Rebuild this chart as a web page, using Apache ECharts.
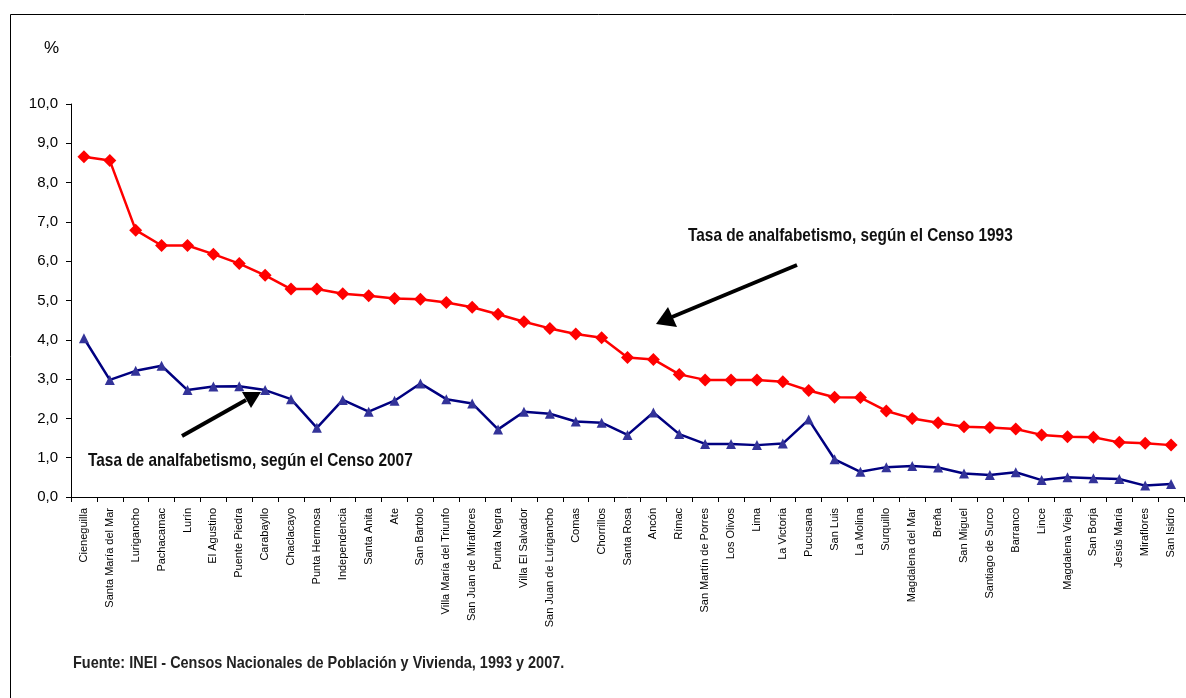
<!DOCTYPE html>
<html><head><meta charset="utf-8">
<script src="https://cdn.jsdelivr.net/npm/echarts@6/dist/echarts.min.js"></script>
<style>html,body{margin:0;padding:0;background:#fff}#c{width:1186px;height:698px}</style>
</head><body><div id="c"></div>
<script>
const categories = ["Cieneguilla","Santa María del Mar","Lurigancho","Pachacamac","Lurín","El Agustino","Puente Piedra","Carabayllo","Chaclacayo","Punta Hermosa","Independencia","Santa Anita","Ate","San Bartolo","Villa María del Triunfo","San Juan de Miraflores","Punta Negra","Villa El Salvador","San Juan de Lurigancho","Comas","Chorrillos","Santa Rosa","Ancón","Rímac","San Martín de Porres","Los Olivos","Lima","La Victoria","Pucusana","San Luis","La Molina","Surquillo","Magdalena del Mar","Breña","San Miguel","Santiago de Surco","Barranco","Lince","Magdalena Vieja","San Borja","Jesús María","Miraflores","San Isidro"];
const censo1993 = [8.66,8.56,6.79,6.40,6.40,6.18,5.94,5.64,5.29,5.29,5.17,5.12,5.05,5.03,4.95,4.83,4.65,4.46,4.29,4.15,4.05,3.55,3.50,3.12,2.98,2.98,2.98,2.93,2.71,2.54,2.53,2.19,2.00,1.89,1.79,1.77,1.73,1.58,1.53,1.52,1.39,1.37,1.32];
const censo2007 = [4.04,2.98,3.21,3.34,2.72,2.81,2.82,2.72,2.49,1.76,2.47,2.17,2.45,2.89,2.49,2.38,1.72,2.17,2.12,1.92,1.89,1.58,2.15,1.60,1.35,1.35,1.32,1.36,1.97,0.96,0.64,0.76,0.79,0.75,0.60,0.56,0.63,0.43,0.50,0.48,0.46,0.29,0.33];
const yTicks = {min:0, max:10, interval:1};

const FONT = "'Liberation Sans','Arial',sans-serif";
const chart = echarts.init(document.getElementById('c'));
chart.setOption({
  animation:false,
  backgroundColor:'#fff',
  grid:{left:71, top:104, width:1113, bottom:201, containLabel:false},
  xAxis:{
    type:'category', data:categories, boundaryGap:true,
    axisLine:{lineStyle:{color:'#000',width:1}},
    axisTick:{show:true, length:5, interval:0, lineStyle:{color:'#000'}},
    axisLabel:{rotate:90, interval:0, fontSize:11, color:'#000', fontFamily:FONT, margin:11}
  },
  yAxis:{
    type:'value', min:yTicks.min, max:yTicks.max, interval:yTicks.interval,
    splitLine:{show:false},
    axisLine:{show:true, lineStyle:{color:'#000',width:1}},
    axisTick:{show:true, length:5, inside:false, lineStyle:{color:'#000'}},
    axisLabel:{fontSize:15, color:'#000', fontFamily:FONT, margin:13,
      formatter:v=>v.toFixed(1).replace('.',',')}
  },
  series:[
    {name:'1993', type:'line', data:censo1993, symbol:'diamond', symbolSize:13,
      lineStyle:{color:'#FF0000', width:2.5}, itemStyle:{color:'#FF0000'}},
    {name:'2007', type:'line', data:censo2007, symbol:'triangle', symbolSize:10,
      lineStyle:{color:'#000080', width:2.5}, itemStyle:{color:'#333399'}}
  ],
  graphic:[
    {type:'rect', shape:{x:10.5,y:14.5,width:1190,height:700}, style:{fill:null, stroke:'#000', lineWidth:1}, silent:true},
    {type:'text', x:44, y:40, style:{text:'%', font:'17px '+FONT, fill:'#000', textVerticalAlign:'top'}},
    {type:'text', x:688, y:226, scaleX:0.81, style:{text:'Tasa de analfabetismo, según el Censo 1993', font:'bold 19px '+FONT, fill:'#111', textVerticalAlign:'top'}},
    {type:'line', shape:{x1:797,y1:265,x2:672,y2:317}, style:{stroke:'#000', lineWidth:4}},
    {type:'polygon', shape:{points:[[656,324],[668,307],[677,327]]}, style:{fill:'#000'}},
    {type:'text', x:88, y:451, scaleX:0.81, style:{text:'Tasa de analfabetismo, según el Censo 2007', font:'bold 19px '+FONT, fill:'#111', textVerticalAlign:'top'}},
    {type:'line', shape:{x1:182,y1:436,x2:246,y2:400}, style:{stroke:'#000', lineWidth:4}},
    {type:'polygon', shape:{points:[[261,392],[242,392],[251,408]]}, style:{fill:'#000'}},
    {type:'text', x:73, y:655, scaleX:0.85, style:{text:'Fuente: INEI - Censos Nacionales de Población y Vivienda, 1993 y 2007.', font:'bold 17px '+FONT, fill:'#222', textVerticalAlign:'top'}}
  ]
});
</script></body></html>
